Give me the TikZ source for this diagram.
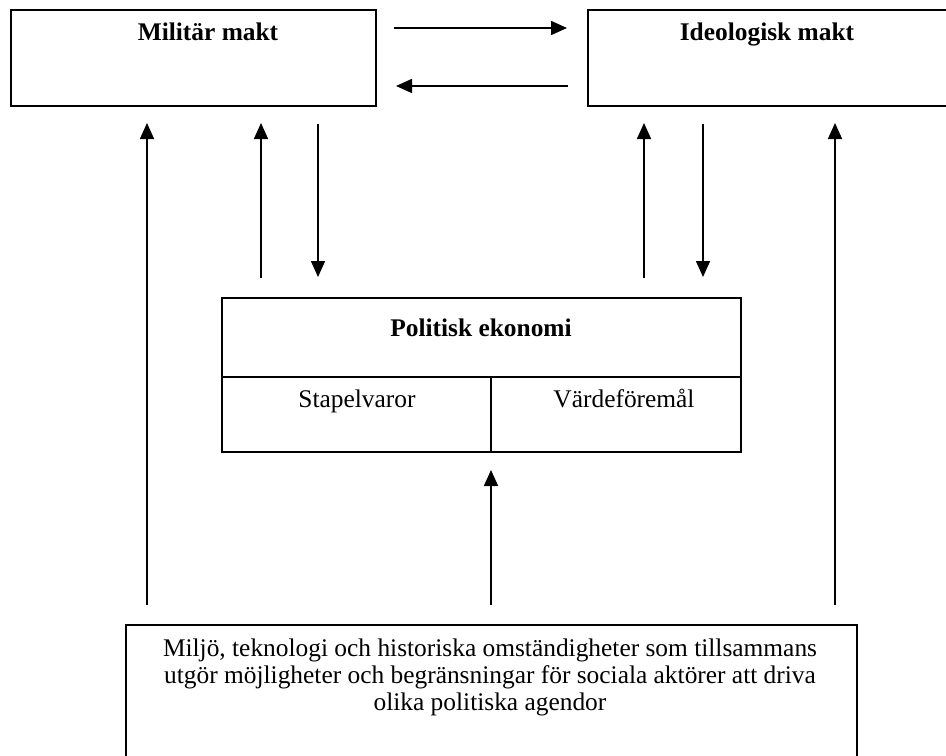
\documentclass[tikz,border=0pt]{standalone}
\usepackage{fontspec}
\setmainfont{Liberation Serif}
\usetikzlibrary{arrows.meta,positioning}
\tikzset{
  box/.style={draw, line width=1pt, inner sep=0pt, anchor=north west},
  arr/.style={line width=0.8pt, ->},
  txt/.style={font=\fontsize{12.7}{13.5}\selectfont, align=center, anchor=base},
  titel/.style={txt, font=\fontsize{12.7}{13.5}\selectfont\bfseries},
}
\begin{document}
\begin{tikzpicture}[x=0.5pt, y=-0.5pt, >={Triangle[length=8pt, width=7pt]}]
				\useasboundingbox (0,0) rectangle (946,755);
				% Rutorna
				\node[box, minimum width=182.5pt, minimum height=48pt] (mil) at (10,9) {};
				\node[box, minimum width=181pt, minimum height=48pt] (ideo) at (587,9) {};
				\node[box, minimum width=259.5pt, minimum height=77pt] (pol) at (221,297) {};
				\node[box, minimum width=365.5pt, minimum height=67pt] (miljo) at (125,624) {};
				
				% Indelning av politisk ekonomi
				\draw[line width=0.8pt] (221,377) -- (740,377);
				\draw[line width=0.8pt] (491,377) -- (491,451);
				
				\node[titel] (miltitel) at (208,40) {Militär makt};
				\node[titel] (ideotitel) at (767,40) {Ideologisk makt};
				\node[titel] (poltitel) at (481,336) {Politisk ekonomi};
				\node[txt] (stapel) at (357,407) {Stapelvaror};
				\node[txt] (varde) at (624,407) {Värdeföremål};
				\node[txt, anchor=north] (miljotext) at (490,632) {Miljö, teknologi och historiska omständigheter som tillsammans\\utgör möjligheter och begränsningar för sociala aktörer att driva\\olika politiska agendor};
				
				% Pilar mellan makterna
				\coordinate (m1) at (394,28);
				\coordinate (i1) at (567,28);
				\coordinate (m2) at (396,86);
				\coordinate (i2) at (568,86);
				\draw[arr] (m1) -- (i1);
				\draw[arr] (i2) -- (m2);
				
				% Pilar upp och ned
				\coordinate (a1) at (147,605); \coordinate (b1) at (147,123);
				\coordinate (a2) at (261,278); \coordinate (b2) at (261,123);
				\coordinate (a3) at (318,124); \coordinate (b3) at (318,277);
				\coordinate (a4) at (644,278); \coordinate (b4) at (644,123);
				\coordinate (a5) at (703,124); \coordinate (b5) at (703,277);
				\coordinate (a6) at (835,605); \coordinate (b6) at (835,123);
				\coordinate (a7) at (491,605); \coordinate (b7) at (491,470);
				\draw[arr] (a1) -- (b1);
				\draw[arr] (a2) -- (b2);
				\draw[arr] (a3) -- (b3);
				\draw[arr] (a4) -- (b4);
				\draw[arr] (a5) -- (b5);
				\draw[arr] (a6) -- (b6);
				\draw[arr] (a7) -- (b7);
			\end{tikzpicture}
\end{document}
